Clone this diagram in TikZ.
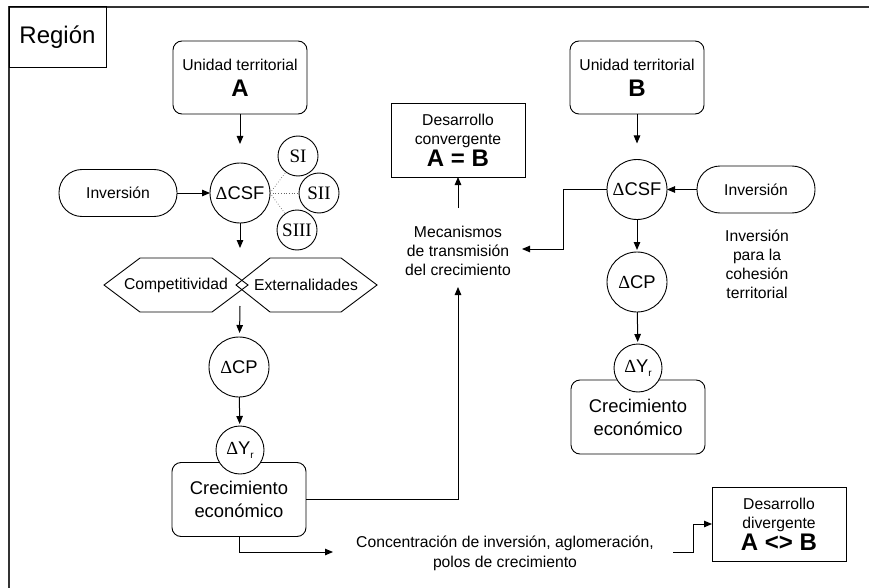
\documentclass[tikz,border=0pt]{standalone}
\usepackage{fontspec}
\setmainfont{Liberation Sans}
\newfontfamily\serifgr{Liberation Serif}
\usetikzlibrary{arrows.meta}

\newcommand\txtsz{\fontsize{15.7}{19}\selectfont}
\newcommand\bigsz{\fontsize{18.4}{23}\selectfont}
\newcommand\hugesz{\fontsize{24}{26}\selectfont}
\newcommand\dlt{{\serifgr Δ}}
\newcommand\subr{\raisebox{-3.5pt}{\fontsize{10}{10}\selectfont r}}
\newcommand\bigletters[1]{{\hugesz\bfseries #1}}

\tikzset{
  base/.style={inner sep=0pt, outer sep=0pt, align=center, font=\txtsz},
  rbox/.style={base, draw, line width=0.9pt, rounded corners=9pt,
    minimum width=134pt, minimum height=74pt, fill=white},
  sbox/.style={base, draw, line width=0.9pt, minimum width=134pt, minimum height=74pt},
  pill/.style={base, draw, line width=0.9pt, rounded corners=23pt,
    minimum width=118pt, minimum height=47pt},
  bigcirc/.style={base, circle, draw, line width=0.9pt, minimum size=60pt,
    fill=white, font=\bigsz},
  ycirc/.style={bigcirc, minimum size=48pt},
  scirc/.style={base, circle, draw, line width=0.9pt, minimum size=40pt,
    font=\serifgr\fontsize{19}{19}\selectfont},
  arr/.style={line width=1pt, -{Triangle[length=8pt,width=6.5pt]}},
  dots/.style={black!60, line width=0.7pt, dotted},
  hex/.style={line width=0.9pt},
  frame/.style={line width=1.5pt, black!80}
}

\begin{document}
\begin{tikzpicture}[x=1pt,y=-1pt]
\useasboundingbox (0,0) rectangle (869,588);

% outer frame and title
\draw[frame] (9,588) -- (9,7) -- (869,7);
\node[base, draw, line width=1pt, minimum width=97pt, minimum height=61pt,
      font=\hugesz] (reg) at (57.5,37.5) {Región};

% ---------- territorial unit A ----------
\node[rbox, minimum height=73pt] (uA) at (240,77.5)
  {Unidad territorial\\[7pt]\bigletters{A}};
\node[pill] (invA) at (118,193) {Inversión};
\node[bigcirc] (csfA) at (240,193) {\dlt CSF};
\node[scirc] (s1) at (298,156) {SI};
\node[scirc] (s2) at (319,193) {SII};
\node[scirc] (s3) at (297,230) {SIII};

% crossing hexagons
\draw[hex] (104,285) -- (140,258) -- (212,258) -- (248,285) -- (212,312) -- (140,312) -- cycle;
\draw[hex] (236,285) -- (270,258) -- (341,258) -- (377,285) -- (341,312) -- (270,312) -- cycle;
\node[base] (comp) at (176,285) {Competitividad};
\node[base] (ext) at (306,285) {Externalidades};
\coordinate (hxin) at (240,248);
\coordinate (hxout) at (240,306);

\node[bigcirc] (cpA) at (239,367) {\dlt CP};
\node[rbox, font=\bigsz] (crA) at (239,499.5) {Crecimiento\\económico};
\node[ycirc] (yrA) at (240,450) {\dlt Y\subr};

% ---------- territorial unit B ----------
\node[rbox, minimum height=73pt] (uB) at (637,77.5)
  {Unidad territorial\\[7pt]\bigletters{B}};
\node[bigcirc] (csfB) at (637,189.5) {\dlt CSF};
\node[pill] (invB) at (756,189.5) {Inversión};
\node[base] (coh) at (757,264) {Inversión\\para la\\cohesión\\territorial};
\node[bigcirc] (cpB) at (637,282) {\dlt CP};
\node[rbox, font=\bigsz] (crB) at (638,417) {Crecimiento\\económico};
\node[ycirc] (yrB) at (638,368) {\dlt Y\subr};

% ---------- outcomes ----------
\node[base] (mec) at (458,251) {Mecanismos\\de transmisión\\del crecimiento};
\coordinate (mecin) at (458,287);
\coordinate (mecout) at (458,208);
\coordinate (mecB) at (522,249);
\node[sbox] (conv) at (458,140) {Desarrollo\\convergente\\[1pt]\bigletters{A = B}};

\node[base, font=\fontsize{15.7}{20}\selectfont] (conc) at (505,553)
  {Concentración de inversión, aglomeración,\\polos de crecimiento};
\coordinate (concin) at (333,552);
\coordinate (concout) at (673,552);
\node[sbox] (divg) at (779,524) {Desarrollo\\divergente\\[1pt]\bigletters{A <> B}};

% ---------- connectors ----------
\draw[arr, shorten >=19pt] (uA) -- (csfA);
\draw[arr] (invA) -- (csfA);
\draw[dots] (csfA.east) -- (s1);
\draw[dots] (csfA.east) -- (s2);
\draw[dots] (csfA.east) -- (s3);
\draw[arr] (csfA) -- (hxin);
\draw[arr, shorten >=4pt] (hxout) -- (cpA);
\draw[arr, shorten >=2pt] (cpA) -- (yrA);
\draw[arr] (crA.east) -| (mecin);
\draw[arr] (mecout) -- (conv);
\draw[arr] (crA.south) |- (concin);
\draw[arr] (concout) -- ++(20,0) |- (divg.west);

\draw[arr, shorten >=16pt] (uB) -- (csfB);
\draw[arr] (invB) -- (csfB);
\draw[arr] (csfB.west) -- ++(-44,0) |- (mecB);
\draw[arr, shorten >=2pt] (csfB) -- (cpB);
\draw[arr, shorten >=2pt] (cpB) -- (yrB);
\end{tikzpicture}
\end{document}
